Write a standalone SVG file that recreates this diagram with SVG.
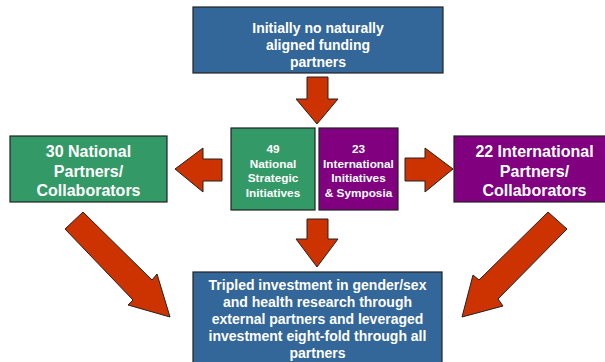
<svg xmlns="http://www.w3.org/2000/svg" width="605" height="362" viewBox="0 0 605 362">
<style>
.box{stroke:#222;stroke-width:1.2}
.blue{fill:#336699}
.green{fill:#339966}
.purple{fill:#800080}
.arrow{fill:#CC3300;stroke:#222;stroke-width:1;stroke-linejoin:miter}
text{font-family:"Liberation Sans",Arial,sans-serif;font-weight:bold;fill:#fff;text-anchor:middle}
.t14{font-size:14px}
.t16{font-size:16px}
.t12{font-size:11.8px}
</style>
<rect width="605" height="362" fill="#fff"/>
<g id="connectors">
<polygon class="arrow" points="307,77 328,77 328,99 338,99 317,124 296,99 307,99"/>
<polygon class="arrow" points="222,159 222,181 203,181 203,192 175,169 203,148 203,159"/>
<polygon class="arrow" points="405,158 425,158 425,148 453,169 425,192 425,181 405,181"/>
<polygon class="arrow" points="307,219 328,219 328,239 338,239 317,267 296,239 307,239"/>
<polygon class="arrow" points="65,229 83,212 152,280 157,274 170,317 128,305 133,300"/>
<polygon class="arrow" points="548,212 567,229 498,299 503,306 462,317 473,275 479,280"/>
</g>
<g id="top">
<rect class="box blue" x="193" y="7" width="250" height="66"/>
<text class="t14"><tspan x="318" y="33">Initially no naturally</tspan><tspan x="318" y="50">aligned funding</tspan><tspan x="318" y="67">partners</tspan></text>
</g>
<g id="national-initiatives">
<rect class="box green" x="231" y="128" width="84" height="82"/>
<text class="t12"><tspan x="273" y="153">49</tspan><tspan x="273" y="167.5">National</tspan><tspan x="273" y="182">Strategic</tspan><tspan x="273" y="196.5">Initiatives</tspan></text>
</g>
<g id="international-initiatives">
<rect class="box purple" x="319" y="128" width="79" height="82"/>
<text class="t12"><tspan x="358.5" y="153">23</tspan><tspan x="358.5" y="167.5">International</tspan><tspan x="358.5" y="182">Initiatives</tspan><tspan x="358.5" y="196.5">&amp; Symposia</tspan></text>
</g>
<g id="national-partners">
<rect class="box green" x="10" y="136" width="157" height="66"/>
<text class="t16"><tspan x="88.5" y="157">30 National</tspan><tspan x="88.5" y="176.5">Partners/</tspan><tspan x="88.5" y="196">Collaborators</tspan></text>
</g>
<g id="international-partners">
<rect class="box purple" x="454" y="136" width="161" height="66"/>
<text class="t16"><tspan x="534.5" y="157">22 International</tspan><tspan x="534.5" y="176.5">Partners/</tspan><tspan x="534.5" y="196">Collaborators</tspan></text>
</g>
<g id="result">
<rect class="box blue" x="193" y="272" width="249" height="100"/>
<text class="t14"><tspan x="317.5" y="289.5">Tripled investment in gender/sex</tspan><tspan x="317.5" y="306.5">and health research through</tspan><tspan x="317.5" y="323.5">external partners and leveraged</tspan><tspan x="317.5" y="340.5">investment eight-fold through all</tspan><tspan x="317.5" y="357.5">partners</tspan></text>
</g>
</svg>
